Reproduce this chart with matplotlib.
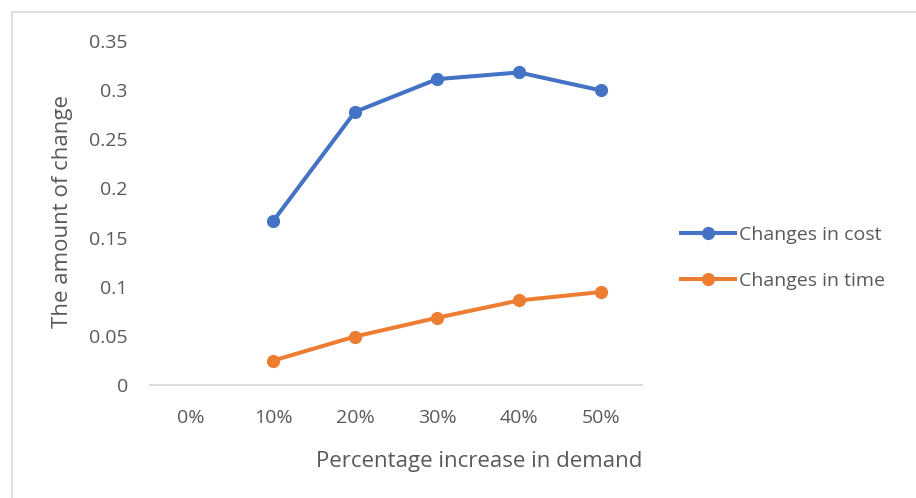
import matplotlib.pyplot as plt
from matplotlib.patches import Rectangle

# data
categories = ['0%', '10%', '20%', '30%', '40%', '50%']
cost_change = [None, 0.1666, 0.2779, 0.3112, 0.318, 0.2997]
time_change = [None, 0.0248, 0.0493, 0.0684, 0.086, 0.0946]
y_ticks = [0, 0.05, 0.1, 0.15, 0.2, 0.25, 0.3, 0.35]
y_tick_labels = ['0', '0.05', '0.1', '0.15', '0.2', '0.25', '0.3', '0.35']

plt.rcParams['font.family'] = ['Open Sans', 'DejaVu Sans']
text_col = '#595959'
blue = '#4472C4'
orange = '#ED7D31'

fig = plt.figure(figsize=(9.16, 4.98), dpi=100)
ax = fig.add_axes([150 / 916, 1 - 385 / 498, 492 / 916, 344 / 498])

x = list(range(len(categories)))
xs_c = [i for i, v in zip(x, cost_change) if v is not None]
ys_c = [v for v in cost_change if v is not None]
xs_t = [i for i, v in zip(x, time_change) if v is not None]
ys_t = [v for v in time_change if v is not None]

ax.plot(xs_c, ys_c, color=blue, lw=2.9, marker='o', ms=8.5, label='Changes in cost')
ax.plot(xs_t, ys_t, color=orange, lw=2.9, marker='o', ms=8.5, label='Changes in time')

ax.set_xlim(-0.5, len(categories) - 0.5)
ax.set_ylim(0, 0.35)
ax.set_xticks(x)
ax.set_xticklabels(categories)
ax.set_yticks(y_ticks)
ax.set_yticklabels(y_tick_labels)
ax.tick_params(length=0, labelsize=14, colors=text_col)
ax.tick_params(axis='y', pad=16)
ax.tick_params(axis='x', pad=17)

for s in ['top', 'right', 'left']:
    ax.spines[s].set_visible(False)
ax.spines['bottom'].set_color('#D9D9D9')
ax.spines['bottom'].set_linewidth(1.3)

# axis titles placed as in the original (x title sits right of the plot centre)
fig.text(479 / 916, 1 - 461 / 498, 'Percentage increase in demand', fontsize=16,
         color=text_col, ha='center', va='center')
fig.text(63 / 916, 1 - 212 / 498, 'The amount of change', fontsize=16,
         color=text_col, ha='center', va='center', rotation=90)

fig.legend(loc='center left', bbox_to_anchor=(681 / 916, 1 - 258 / 498), frameon=False,
           fontsize=14, labelcolor=text_col, handlelength=2.8, handletextpad=0.2,
           labelspacing=1.45, borderpad=0, borderaxespad=0)

# chart border (only top/left visible in the crop)
fig.patches.append(Rectangle((12 / 916, -0.1), 1.2, 1 - 12 / 498 + 0.1,
                             transform=fig.transFigure, fill=False,
                             edgecolor='#D9D9D9', lw=1.2))

fig.savefig('out.png', dpi=100)
